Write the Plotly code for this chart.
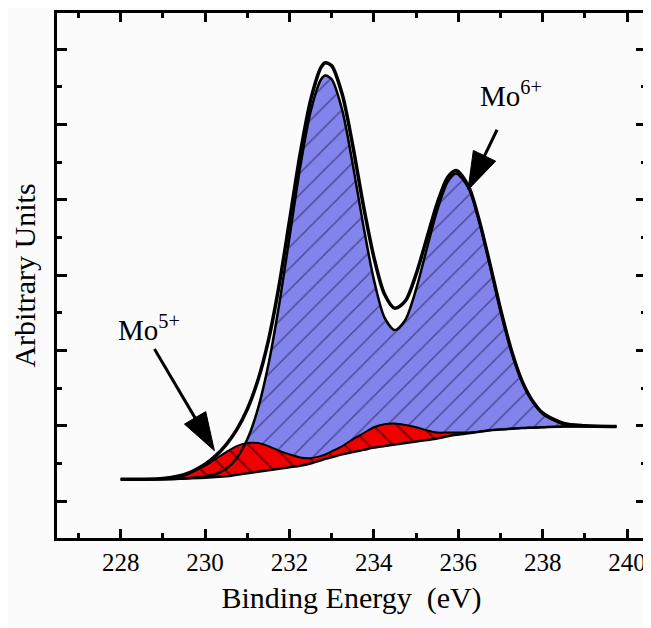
import plotly.graph_objects as go

# ---- data (Mo 3d XPS spectrum) ----
energy = [228.0, 228.5, 229.0, 229.5, 230.0, 230.25, 230.5, 230.75, 231.0, 231.25,
          231.5, 231.75, 232.0, 232.25, 232.5, 232.75, 232.85, 233.0, 233.25, 233.5,
          233.75, 234.0, 234.25, 234.5, 234.75, 235.0, 235.25, 235.5, 235.75, 235.95,
          236.25, 236.5, 236.75, 237.0, 237.25, 237.5, 237.75, 238.0, 238.5, 239.0, 239.75]

background = [0.29, 0.29, 0.29, 0.30, 0.31, 0.32, 0.33, 0.35, 0.37, 0.39,
              0.41, 0.43, 0.45, 0.47, 0.50, 0.54, 0.56, 0.58, 0.62, 0.65,
              0.68, 0.71, 0.73, 0.75, 0.77, 0.79, 0.81, 0.83, 0.86, 0.88,
              0.90, 0.92, 0.94, 0.95, 0.96, 0.97, 0.975, 0.98, 0.99, 0.99, 0.99]

# background + Mo5+ component (red)
mo5_envelope = [0.29, 0.29, 0.30, 0.35, 0.47, 0.56, 0.65, 0.73, 0.77, 0.77,
                0.73, 0.67, 0.62, 0.58, 0.57, 0.60, 0.62, 0.66, 0.73, 0.82,
                0.90, 0.98, 1.02, 1.03, 1.01, 0.98, 0.94, 0.91, 0.91, 0.91,
                0.91, 0.92, 0.94, 0.95, 0.96, 0.97, 0.975, 0.98, 0.99, 0.99, 0.99]

# background + Mo6+ component (blue)
mo6_envelope = [0.29, 0.29, 0.29, 0.30, 0.33, 0.36, 0.43, 0.57, 0.82, 1.22,
                1.81, 2.59, 3.50, 4.42, 5.17, 5.60, 5.65, 5.60, 5.19, 4.47,
                3.66, 2.94, 2.44, 2.27, 2.41, 2.81, 3.34, 3.86, 4.24, 4.35,
                4.15, 3.71, 3.14, 2.54, 2.01, 1.60, 1.33, 1.16, 1.02, 1.00, 0.99]

# measured spectrum (outer curve)
measured = [0.29, 0.29, 0.30, 0.35, 0.49, 0.60, 0.75, 0.95, 1.22, 1.60,
            2.13, 2.85, 3.72, 4.60, 5.32, 5.76, 5.82, 5.78, 5.40, 4.72,
            3.93, 3.24, 2.75, 2.56, 2.66, 3.01, 3.48, 3.95, 4.30, 4.39,
            4.17, 3.72, 3.15, 2.55, 2.02, 1.61, 1.34, 1.17, 1.03, 1.00, 0.99]

# arrows: [tail, tip] and label positions
mo5_arrow_x = [228.80, 230.22]
mo5_arrow_y = [2.02, 0.67]
mo5_label = (228.68, 2.30)
mo6_arrow_x = [236.92, 236.23]
mo6_arrow_y = [4.93, 4.13]
mo6_label = (237.25, 5.40)

x_range = [226.49, 240.45]
y_range = [-0.49, 6.48]

BLUE = "#8383ec"
RED = "#f00000"
SERIF = "Liberation Serif"
SPL = dict(shape="spline", smoothing=0.8)

fig = go.Figure()

# blue Mo6+ area
fig.add_trace(go.Scatter(x=energy, y=background, mode="lines",
                         line=dict(width=0, **SPL), hoverinfo="skip", showlegend=False))
fig.add_trace(go.Scatter(x=energy, y=mo6_envelope, mode="lines",
                         line=dict(width=0, **SPL), fill="tonexty",
                         fillpattern=dict(shape="/", bgcolor=BLUE, fgcolor="#101040",
                                          size=15, solidity=0.1),
                         hoverinfo="skip", showlegend=False))
# red Mo5+ area
fig.add_trace(go.Scatter(x=energy, y=background, mode="lines",
                         line=dict(width=0, **SPL), hoverinfo="skip", showlegend=False))
fig.add_trace(go.Scatter(x=energy, y=mo5_envelope, mode="lines",
                         line=dict(width=0, **SPL), fill="tonexty",
                         fillpattern=dict(shape="\\", bgcolor=RED, fgcolor="#000000",
                                          size=17, solidity=0.12),
                         hoverinfo="skip", showlegend=False))

# outlines
fig.add_trace(go.Scatter(x=energy, y=background, mode="lines",
                         line=dict(color="black", width=2.5, **SPL), showlegend=False))
fig.add_trace(go.Scatter(x=energy, y=mo5_envelope, mode="lines",
                         line=dict(color="black", width=2, **SPL), showlegend=False))
fig.add_trace(go.Scatter(x=energy, y=mo6_envelope, mode="lines",
                         line=dict(color="black", width=2.5, **SPL), showlegend=False))
fig.add_trace(go.Scatter(x=energy, y=measured, mode="lines",
                         line=dict(color="black", width=3.5, **SPL), showlegend=False))

# arrows
for ax_, ay_ in [(mo5_arrow_x, mo5_arrow_y), (mo6_arrow_x, mo6_arrow_y)]:
    fig.add_trace(go.Scatter(x=ax_, y=ay_, mode="lines+markers",
                             line=dict(color="black", width=3),
                             marker=dict(symbol="arrow", size=[0, 40], color="#000000",
                                         opacity=1, angleref="previous",
                                         line=dict(width=1, color="#000000")),
                             hoverinfo="skip", showlegend=False))

for (lx, ly), txt in [(mo5_label, "Mo<sup>5+</sup>"), (mo6_label, "Mo<sup>6+</sup>")]:
    fig.add_annotation(x=lx, y=ly, text=txt, showarrow=False, xanchor="center",
                       yanchor="middle", font=dict(family=SERIF, size=29, color="black"))

axis_common = dict(showline=True, linecolor="black", linewidth=3, mirror="ticks",
                   ticks="inside", tickcolor="black", tickwidth=2.5,
                   showgrid=False, zeroline=False)

# the page body has an 8px margin, so the figure is sized/offset to compensate
fig.update_layout(
    width=643, height=620,
    margin=dict(l=49, r=2, t=2, b=90, pad=0),
    font=dict(family=SERIF, color="black"),
    paper_bgcolor="#fbfbfb", plot_bgcolor="#fbfbfb",
    showlegend=False,
    xaxis=dict(range=x_range, tick0=228, dtick=2, ticklen=9,
               minor=dict(ticks="inside", dtick=1, ticklen=5, tickwidth=2.5, tickcolor="black"),
               tickfont=dict(family=SERIF, size=25, color="black"),
               title=dict(text="Binding Energy \u00a0(eV)", standoff=12,
                          font=dict(family=SERIF, size=30, color="black")),
               **axis_common),
    yaxis=dict(range=y_range, tick0=0, dtick=1, ticklen=10, showticklabels=False,
               minor=dict(ticks="inside", dtick=0.5, ticklen=5, tickwidth=2.5, tickcolor="black"),
               title=dict(text="Arbitrary Units", standoff=14,
                          font=dict(family=SERIF, size=30, color="black")),
               **axis_common),
)

fig.write_html("out.html")
